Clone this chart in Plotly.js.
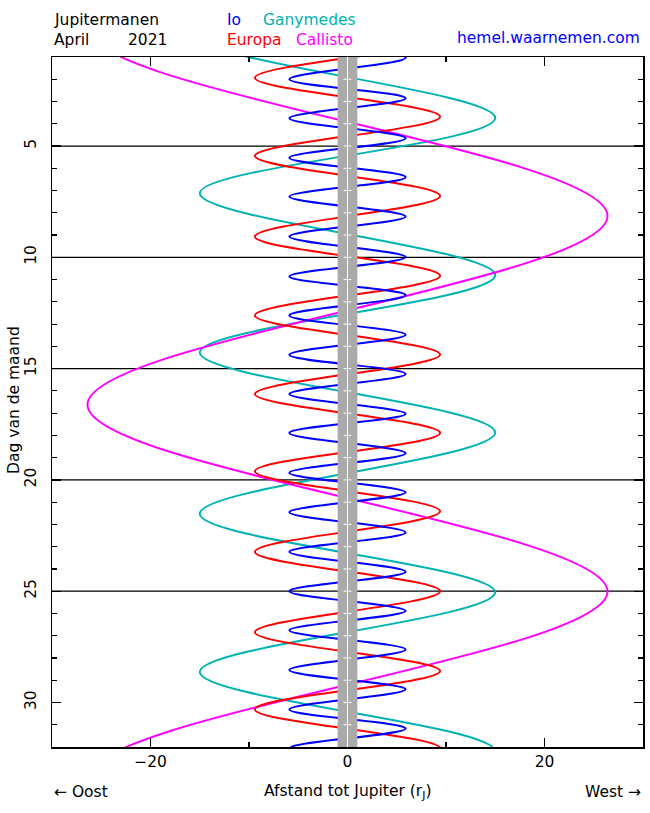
<!DOCTYPE html>
<html><head><meta charset="utf-8">
<script src="https://cdn.plot.ly/plotly-3.0.1.min.js"></script>
<style>html,body{margin:0;padding:0;background:#fff}</style>
</head><body>
<div id="chart" style="width:650px;height:813px"></div>
<script>
// Extremes (elongations): day of month and distance in Jupiter radii
const ioDays = [-0.74, 0.15, 1.03, 2.00, 2.85, 3.75, 4.65, 5.53, 6.40, 7.27, 8.17, 9.07, 9.99, 10.86, 11.70, 12.61, 13.48, 14.38, 15.24, 16.14, 17.03, 17.89, 18.80, 19.68, 20.56, 21.45, 22.36, 23.23, 24.13, 25.00, 25.88, 26.76, 27.62, 28.54, 29.41, 30.31, 31.17, 32.06, 32.95, 33.84];
const ioPos = [5.9, -5.9, 5.9, -5.9, 5.9, -5.9, 5.9, -5.9, 5.9, -5.9, 5.9, -5.9, 5.9, -5.9, 5.9, -5.9, 5.9, -5.9, 5.9, -5.9, 5.9, -5.9, 5.9, -5.9, 5.9, -5.9, 5.9, -5.9, 5.9, -5.9, 5.9, -5.9, 5.9, -5.9, 5.9, -5.9, 5.9, -5.9, 5.9, -5.9];

const europaDays = [-1.63, 0.15, 1.93, 3.68, 5.44, 7.24, 9.07, 10.83, 12.61, 14.37, 16.14, 17.89, 19.61, 21.41, 23.23, 25.00, 26.84, 28.59, 30.31, 32.06, 33.85, 35.60];
const europaPos = [-9.4, 9.4, -9.4, 9.4, -9.4, 9.4, -9.4, 9.4, -9.4, 9.4, -9.4, 9.4, -9.4, 9.4, -9.4, 9.4, -9.4, 9.4, -9.4, 9.4, -9.4, 9.4];

const ganymedesDays = [-3.50, 0.05, 3.74, 7.12, 10.80, 14.28, 17.87, 21.52, 25.05, 28.63, 32.20, 35.80, 39.40];
const ganymedesPos = [15.0, -15.0, 15.0, -15.0, 15.0, -15.0, 15.0, -15.0, 15.0, -15.0, 15.0, -15.0, 15.0];

const callistoDays = [-8.7, -0.3, 8.14, 16.62, 25.01, 33.4, 41.8];
const callistoPos = [26.4, -26.4, 26.4, -26.4, 26.4, -26.4, 26.4];

const dayRange = [1, 32];
const jupiterRadius = 1;
const markDays = [2, 3, 4, 5, 6, 7, 8, 9, 10, 11, 12, 13, 14, 15, 16, 17, 18, 19, 20, 21, 22, 23, 24, 25, 26, 27, 28, 29, 30, 31];
const gridDays = [5, 10, 15, 20, 25];
const yTickVals = [5, 10, 15, 20, 25, 30];
const xTickVals = [-20, 0, 20];
const xRange = [-30, 30];

const FONT = 'DejaVu Sans, Liberation Sans, sans-serif';
const moons = [
  {name: 'Ganymedes', d: ganymedesDays, x: ganymedesPos, c: 'rgb(0,178,178)'},
  {name: 'Callisto', d: callistoDays, x: callistoPos, c: 'rgb(255,0,255)'},
  {name: 'Europa', d: europaDays, x: europaPos, c: 'rgb(255,0,0)'},
  {name: 'Io', d: ioDays, x: ioPos, c: 'rgb(0,0,255)'}
];
const traces = moons.map(m => ({
  type: 'scatter', mode: 'lines', name: m.name,
  x: m.x, y: m.d,
  line: {color: m.c, width: 2, shape: 'spline', smoothing: 1},
  hoverinfo: 'skip'
}));

const shapes = [];
gridDays.forEach(d => shapes.push({type: 'line', xref: 'x', yref: 'y', x0: xRange[0], x1: xRange[1], y0: d, y1: d, layer: 'below', line: {color: 'black', width: 1.3}}));
shapes.push({type: 'rect', xref: 'x', yref: 'y', x0: -jupiterRadius, x1: jupiterRadius, y0: dayRange[0], y1: dayRange[1], layer: 'above', fillcolor: 'rgb(170,170,170)', line: {width: 0}});
shapes.push({type: 'line', xref: 'x', yref: 'y', x0: 0, x1: 0, y0: dayRange[0], y1: dayRange[1], layer: 'above', line: {color: 'white', width: 1}});
markDays.forEach(d => shapes.push({type: 'line', xref: 'x', yref: 'y', x0: -0.4 * jupiterRadius, x1: 0.4 * jupiterRadius, y0: d, y1: d, layer: 'above', line: {color: 'white', width: 1}}));

const ann = (text, x, y, color, xanchor, extra) => Object.assign({
  text: text, x: x, y: y, xref: 'paper', yref: 'paper', showarrow: false,
  xanchor: xanchor || 'left', yanchor: 'middle', font: {family: FONT, size: 15.5, color: color || 'black'}
}, extra || {});

const annotations = [
  ann('Jupitermanen', 0, 1.0536),
  ann('April', 0, 1.024),
  ann('2021', 0.125, 1.024),
  ann('Io', 0.2927, 1.0536, 'rgb(0,0,255)'),
  ann('Ganymedes', 0.3536, 1.0536, 'rgb(0,178,178)'),
  ann('Europa', 0.2927, 1.024, 'rgb(255,0,0)'),
  ann('Callisto', 0.4095, 1.024, 'rgb(255,0,255)'),
  ann('hemel.waarnemen.com', 0.998, 1.0275, 'rgb(0,0,255)', 'right'),
  ann('← Oost', 0, -0.0652),
  ann('West →', 1.0, -0.0652, 'black', 'right'),
  ann('Afstand tot Jupiter (r<sub>J</sub>)', 0.5, -0.0652, 'black', 'center'),
  ann('Dag van de maand', -0.0643, 0.503, 'black', 'center', {textangle: -90})
];

const layout = {
  width: 650, height: 813,
  margin: {l: 52, r: 7, t: 57, b: 66},
  paper_bgcolor: 'white', plot_bgcolor: 'white',
  showlegend: false,
  font: {family: FONT, size: 15.5, color: 'black'},
  xaxis: {
    range: xRange, tickvals: xTickVals, ticks: 'inside', ticklen: 9, tickwidth: 1.2, tickcolor: 'black',
    minor: {dtick: 10, tick0: 0, ticks: 'inside', ticklen: 5, tickwidth: 1.2, tickcolor: 'black'},
    showline: true, linecolor: 'black', linewidth: 1.5, mirror: 'ticks',
    showgrid: false, zeroline: false, tickfont: {family: FONT, size: 15.5}
  },
  yaxis: {
    range: [dayRange[1], dayRange[0]], tickvals: yTickVals, tickangle: -90,
    ticks: 'inside', ticklen: 9, tickwidth: 1.2, tickcolor: 'black',
    minor: {dtick: 1, tick0: 0, ticks: 'inside', ticklen: 5, tickwidth: 1.2, tickcolor: 'black'},
    showline: true, linecolor: 'black', linewidth: 1.5, mirror: 'ticks',
    showgrid: false, zeroline: false, ticklabelstandoff: 8, tickfont: {family: FONT, size: 15.5}
  },
  shapes: shapes,
  annotations: annotations
};
Plotly.newPlot('chart', traces, layout, {staticPlot: true, displayModeBar: false});
</script>
</body></html>
